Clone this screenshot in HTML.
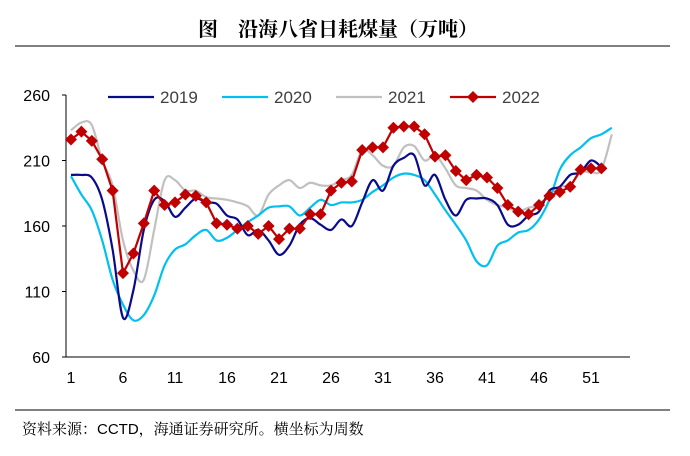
<!DOCTYPE html>
<html><head><meta charset="utf-8"><style>
body{margin:0;background:#fff;width:690px;height:451px;overflow:hidden;font-family:"Liberation Sans","Noto Sans CJK SC",sans-serif}
</style></head><body>
<svg width="690" height="451" xmlns="http://www.w3.org/2000/svg">
<text x="338" y="36" text-anchor="middle" font-size="20" font-weight="bold" font-family="'Noto Serif CJK SC',serif">图　沿海八省日耗煤量（万吨）</text>
<line x1="15" y1="46" x2="670" y2="46" stroke="#000" stroke-width="1"/>
<line x1="15" y1="410" x2="670" y2="410" stroke="#000" stroke-width="1"/>
<text x="22" y="434" font-size="15" font-family="'Liberation Sans','Noto Serif CJK SC',serif">资料来源：CCTD，海通证券研究所。横坐标为周数</text>
<g id="axes"></g><g id="series"></g><g id="legend"></g>
</svg>
<script>
const weeks=[];for(let i=1;i<=53;i++)weeks.push(i);
const xTicks=[1,6,11,16,21,26,31,36,41,46,51];
const yTicks=[60,110,160,210,260];
const s2019=[199,199,197,180,142,90,111,157,180,179,167,174,181,178,177,168,165,153,157,149,138,145,161,166,161,157,165,160,178,195,187,206,212,214,191,199,180,168,180,181,181,176,161,161,168,171,187,190,199,201,210,205];
const s2020=[198,184,172,149,119,100,88,92,107,130,142,146,153,157,149,151,157,163,168,174,175,175,168,174,180,176,178,178,180,186,191,197,200,199,195,184,172,161,149,133,130,145,149,155,157,165,180,203,214,220,227,230,235];
const s2021=[233,239,237,210,191,149,126,119,157,195,195,187,187,182,181,180,178,175,168,184,191,195,189,193,191,191,195,199,218,214,206,206,220,221,210,214,204,191,189,187,180,176,174,171,174,176,184,190,191,201,201,203,230];
const s2022=[226,232,225,211,187,124,139,162,187,176,178,184,183,178,162,161,158,160,154,160,150,158,158,169,169,187,193,194,218,220,220,235,236,236,230,213,214,202,195,199,197,189,176,171,169,176,183,186,190,203,204,204];
const X=w=>71+(w-1)*10.4, Y=v=>357-(v-60)*1.31;
const NS="http://www.w3.org/2000/svg";
function mk(t,a,p){const e=document.createElementNS(NS,t);for(const k in a)e.setAttribute(k,a[k]);p.appendChild(e);return e;}
const ax=document.getElementById('axes');
const yl=mk('line',{x1:66,y1:Y(260),x2:66,y2:Y(60),stroke:'#000'},ax);


const xl=mk('line',{x1:66,y1:Y(60),x2:630,y2:Y(60),stroke:'#000'},ax);


yTicks.forEach(v=>{mk('line',{x1:62,y1:Y(v),x2:66,y2:Y(v),stroke:'#000'},ax);
const t=mk('text',{x:50,y:Y(v)+6,'text-anchor':'end','font-size':16,fill:'#000'},ax);t.textContent=v;

});
xTicks.forEach(w=>{const t=mk('text',{x:X(w),y:Y(60)+26,'text-anchor':'middle','font-size':16,fill:'#000'},ax);t.textContent=w;

});
function smooth(d){const p=d.map((v,i)=>[X(i+1),Y(v)]);let s='M'+p[0][0]+','+p[0][1];
for(let i=0;i<p.length-1;i++){const a=p[i-1]||p[i],b=p[i],c=p[i+1],e=p[i+2]||c;
s+=` C${b[0]+(c[0]-a[0])/6},${b[1]+(c[1]-a[1])/6} ${c[0]-(e[0]-b[0])/6},${c[1]-(e[1]-b[1])/6} ${c[0]},${c[1]}`;}return s;}
const sg=document.getElementById('series');
[[s2021,'#c0c0c0','line-2021'],[s2020,'#00c0f0','line-2020'],[s2019,'#0a0a8c','line-2019']].forEach(([d,c,n])=>{
const p=mk('path',{d:smooth(d),fill:'none',stroke:c,'stroke-width':2.2},sg);

});
const l22=mk('polyline',{points:s2022.map((v,i)=>X(i+1)+','+Y(v)).join(' '),fill:'none',stroke:'#c00000','stroke-width':2.2},sg);


s2022.forEach((v,i)=>{const x=X(i+1),y=Y(v);
const m=mk('polygon',{points:`${x},${y-6} ${x+6},${y} ${x},${y+6} ${x-6},${y}`,fill:'#c00000'},sg);

});
const lg=document.getElementById('legend');
[['2019','#0a0a8c',108],['2020','#00c0f0',222],['2021','#c0c0c0',336],['2022','#c00000',450]].forEach(([n,c,x],i)=>{
const g=mk('g',{},lg);


mk('line',{x1:x,y1:97,x2:x+46,y2:97,stroke:c,'stroke-width':2.2},g);
if(i==3)mk('polygon',{points:`${x+23},91 ${x+29},97 ${x+23},103 ${x+17},97`,fill:c},g);
const t=mk('text',{x:x+52,y:103,'font-size':17,fill:'#404040'},g);t.textContent=n;});
</script>
</body></html>
